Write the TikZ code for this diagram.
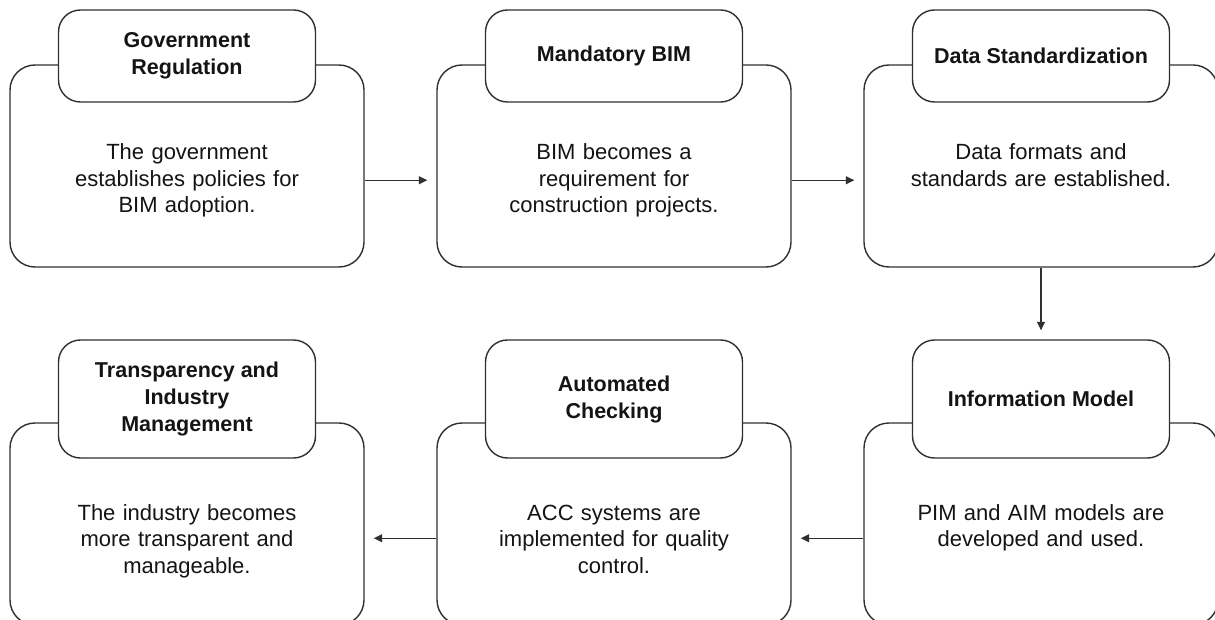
\documentclass[tikz,border=0pt]{standalone}
\usepackage{fontspec}
\setmainfont{Liberation Sans}
\usetikzlibrary{arrows.meta,calc}
\definecolor{linec}{HTML}{303030}
\definecolor{txtc}{HTML}{141414}
\begin{document}
\begin{tikzpicture}[x=1pt,y=-1pt,
  box/.style={draw=linec, line width=1.4pt, rounded corners=25pt, minimum width=354pt, minimum height=202pt, inner sep=0pt, fill=white},
  head/.style={draw=linec, line width=1.4pt, rounded corners=22pt, minimum width=257pt, inner sep=0pt, fill=white, align=center, font=\fontsize{21.5}{27}\selectfont\bfseries, text=txtc},
  headtop/.style={head, minimum height=92pt},
  headbot/.style={head, minimum height=118pt},
  body/.style={anchor=base, align=center, text width=340pt, inner sep=0pt, font=\fontsize{22}{26.5}\selectfont, text=txtc},
  arr/.style={draw=linec, line width=1.2pt, -{Triangle[length=8.5pt,width=8pt]}, shorten >=9pt}
]
\useasboundingbox (0,0) rectangle (1215,620);
\fill[white] (0,0) rectangle (1215,620);

% top row
\node[box] (b1) at (187,166) {};
\node[box] (b2) at (614,166) {};
\node[box] (b3) at (1041,166) {};
\node[headtop] (h1) at (187,56) {Government\\Regulation};
\node[headtop] (h2) at (614,56) {Mandatory BIM};
\node[headtop] (h3) at (1041,56) {Data Standardization};
\node[body] (t1) at (187,160) {The government\\establishes policies for\\BIM adoption.};
\node[body] (t2) at (614,160) {BIM becomes a\\requirement for\\construction projects.};
\node[body] (t3) at (1041,160) {Data formats and\\standards are established.};

% bottom row
\node[box] (b4) at (187,524) {};
\node[box] (b5) at (614,524) {};
\node[box] (b6) at (1041,524) {};
\node[headbot] (h4) at (187,399) {Transparency and\\Industry\\Management};
\node[headbot] (h5) at (614,399) {Automated\\Checking};
\node[headbot] (h6) at (1041,399) {Information Model};
\node[body] (t4) at (187,520) {The industry becomes\\more transparent and\\manageable.};
\node[body] (t5) at (614,520) {ACC systems are\\implemented for quality\\control.};
\node[body] (t6) at (1041,520) {PIM and AIM models are\\developed and used.};

% connectors
\draw[arr] ($(b1.north east)!0.57!(b1.south east)$) -- ($(b2.north west)!0.57!(b2.south west)$);
\draw[arr] ($(b2.north east)!0.57!(b2.south east)$) -- ($(b3.north west)!0.57!(b3.south west)$);
\draw[arr] (b3.south) -- (h6.north);
\draw[arr] ($(b6.north west)!0.57!(b6.south west)$) -- ($(b5.north east)!0.57!(b5.south east)$);
\draw[arr] ($(b5.north west)!0.57!(b5.south west)$) -- ($(b4.north east)!0.57!(b4.south east)$);
\end{tikzpicture}
\end{document}
